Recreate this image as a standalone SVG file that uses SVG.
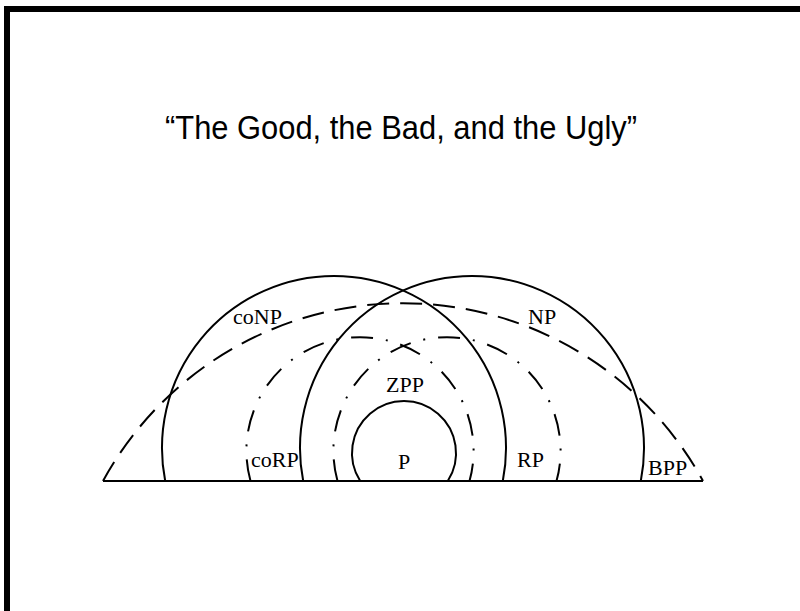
<svg xmlns="http://www.w3.org/2000/svg" width="800" height="611" viewBox="0 0 800 611">
<style>
.arc{fill:none;stroke:#000;stroke-width:2}
.dash{stroke-dasharray:22 11}
.dashdot{stroke-dasharray:22 13 2 13}
.lbl{font-family:"Liberation Serif","Times New Roman",serif;font-size:22px;fill:#000}
.title{font-family:"Liberation Sans",Arial,sans-serif;font-size:33px;fill:#000}
</style>
<rect width="800" height="611" fill="#fff"/>
<path d="M7 611 V9 H800" fill="none" stroke="#000" stroke-width="6"/>
<text class="title" x="165" y="139" textLength="472" lengthAdjust="spacingAndGlyphs">“The Good, the Bad, and the Ugly”</text>
<g id="connectors">
<line x1="103" y1="481" x2="703" y2="481" stroke="#000" stroke-width="2"/>
</g>
<g id="BPP">
<path class="arc dash" d="M103 481 A342 342 0 0 1 703 481"/>
<text class="lbl" x="648" y="475">BPP</text>
</g>
<g id="coNP">
<path class="arc" d="M165.2 481 A172 172 0 1 1 502.8 481"/>
<text class="lbl" x="233" y="324">coNP</text>
</g>
<g id="NP">
<path class="arc" d="M303.2 481 A172 172 0 1 1 640.8 481"/>
<text class="lbl" x="528" y="324">NP</text>
</g>
<g id="coRP">
<path class="arc dashdot" d="M250.5 481 A113.6 113.6 0 1 1 469.5 481"/>
<text class="lbl" x="251" y="467">coRP</text>
</g>
<g id="RP">
<path class="arc dashdot" d="M337.5 481 A113.6 113.6 0 1 1 556.5 481"/>
<text class="lbl" x="517" y="467">RP</text>
</g>
<g id="ZPP">
<text class="lbl" x="386" y="392">ZPP</text>
</g>
<g id="P">
<path class="arc" d="M360.2 481 A52 52 0 1 1 447.8 481"/>
<text class="lbl" x="398" y="469">P</text>
</g>
</svg>
